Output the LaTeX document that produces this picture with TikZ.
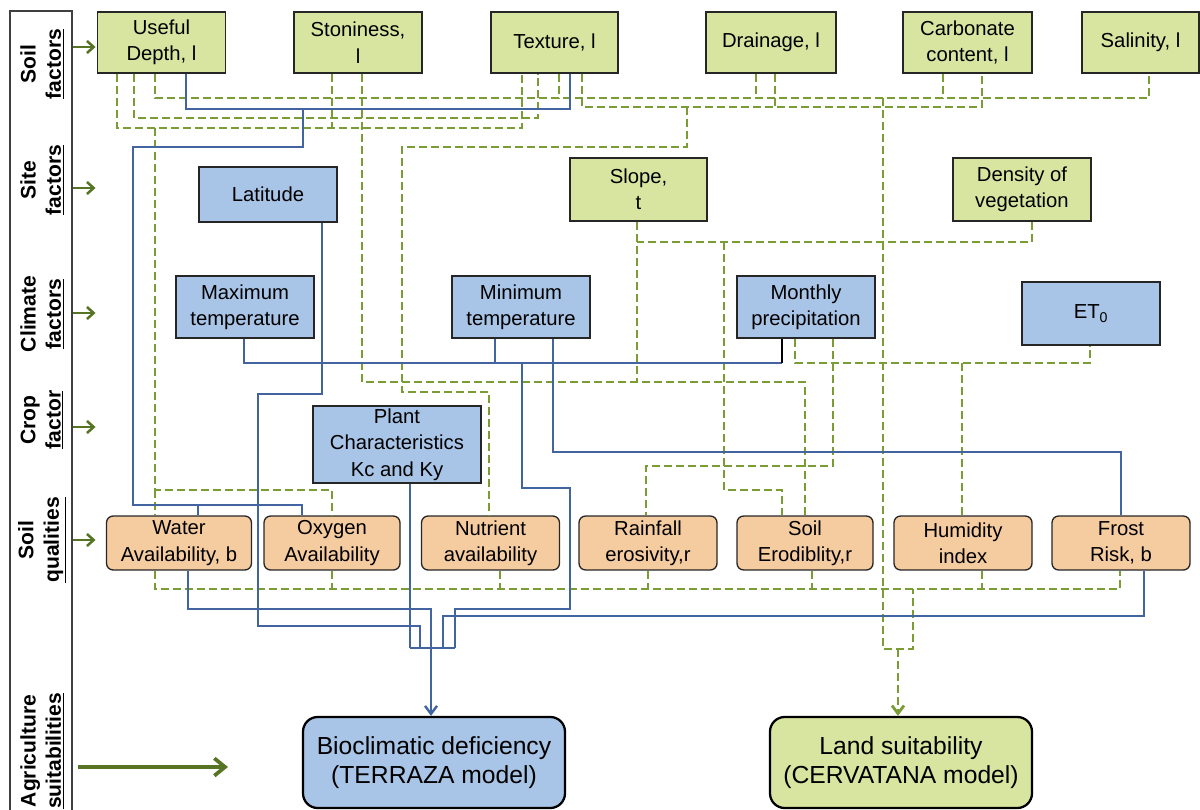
\documentclass[tikz,border=0pt]{standalone}
\usepackage{fontspec}
\setmainfont{Liberation Sans}
\usetikzlibrary{arrows.meta}

\definecolor{soilgreen}{RGB}{215,229,160}
\definecolor{climblue}{RGB}{168,196,230}
\definecolor{qualorange}{RGB}{245,203,160}
\definecolor{linkblue}{RGB}{66,100,160}
\definecolor{linkgreen}{RGB}{122,156,52}
\definecolor{arrowgreen}{RGB}{86,116,36}

\begin{document}
\begin{tikzpicture}[x=0.75pt,y=-0.75pt]
    \tikzset{box/.style 2 args={draw=black!85, line width=1pt, inner sep=0pt, align=center,
            minimum width=#1*0.75pt, minimum height=#2*0.75pt, font=\fontsize{15.2}{19.8}\selectfont},
        soil/.style={fill=soilgreen},
        clim/.style={fill=climblue},
        qual/.style={fill=qualorange, rounded corners=5pt},
        model/.style={line width=1.7pt, draw=black, rounded corners=11pt, font=\fontsize{18.5}{22}\selectfont},
        rowlbl/.style={rotate=90, align=center, inner sep=0pt, font=\fontsize{15.8}{19}\selectfont\bfseries},
        bline/.style={draw=linkblue, line width=1.8pt},
        gline/.style={draw=linkgreen, line width=2.1pt, dash pattern=on 6pt off 3pt},
        rowarrow/.style={draw=arrowgreen, line width=1.9pt, -{Straight Barb[length=5pt,width=9pt]}}
    }
    \useasboundingbox (0,0) rectangle (1200,810);

    %Leiste links
    \node[draw=black!75, line width=0.8pt, minimum width=62*0.75pt, minimum height=820*0.75pt] (panel) at (41,421) {};
    \node[rowlbl] (lsoil) at (42,64)  {Soil\\\underline{factors}};
    \node[rowlbl] (lsite) at (42,180) {Site\\\underline{factors}};
    \node[rowlbl] (lclim) at (42,314) {Climate\\\underline{factors}};
    \node[rowlbl] (lcrop) at (42,420) {Crop\\\underline{factor}};
    \node[rowlbl] (lqual) at (42,540) {Soil\\\underline{qualities}};
    \node[rowlbl] (lagri) at (42,751) {Agriculture\\\underline{suitabilities}};
    \foreach \y in {47,188,313,427,540}
        \draw[rowarrow] (panel.east |- 0,\y) -- ++(23,0);
    \draw[rowarrow, line width=2.8pt, -{Straight Barb[length=8pt,width=13pt]}] (78,767) -- (228,767);

    %Bodenfaktoren
    \node[box={128}{61}, soil] (ud)    at (161.5,42.5) {Useful\\Depth, l};
    \node[box={128}{61}, soil] (ston)  at (358,42.5)   {Stoniness,\\l};
    \node[box={127}{61}, soil] (tex)   at (554.5,42.5) {Texture, l};
    \node[box={130}{61}, soil] (drain) at (771,42.5)   {Drainage, l};
    \node[box={129}{61}, soil] (carb)  at (967.5,42.5) {Carbonate\\content, l};
    \node[box={117}{61}, soil] (sal)   at (1140.5,42.5){Salinity, l};

    %Standort
    \node[box={138}{55}, clim] (lat)   at (268,194.5)  {Latitude};
    \node[box={137}{63}, soil] (slope) at (638.5,189.5){Slope,\\t};
    \node[box={138}{63}, soil] (dens)  at (1022,189.5) {Density of\\vegetation};

    %Klima
    \node[box={138}{62}, clim] (tmax)  at (245,307)    {Maximum\\temperature};
    \node[box={138}{62}, clim] (tmin)  at (521,307)    {Minimum\\temperature};
    \node[box={138}{62}, clim] (prec)  at (806,307)    {Monthly\\precipitation};
    \node[box={138}{63}, clim] (et)    at (1091,313.5) {ET\textsubscript{0}};

    %Pflanze
    \node[box={168}{77}, clim] (plant) at (397,444.5)  {Plant\\Characteristics\\Kc and Ky};

    %Bodenqualitaeten
    \node[box={145}{54}, qual] (wat)   at (179,543)    {Water\\Availability, b};
    \node[box={136}{54}, qual] (oxy)   at (332,543)    {Oxygen\\Availability};
    \node[box={138}{54}, qual] (nut)   at (490.5,543)  {Nutrient\\availability};
    \node[box={138}{54}, qual] (rain)  at (648,543)    {Rainfall\\erosivity,r};
    \node[box={136}{54}, qual] (erod)  at (805,543)    {Soil\\Erodiblity,r};
    \node[box={138}{54}, qual] (hum)   at (963,543)    {Humidity\\index};
    \node[box={138}{54}, qual] (frost) at (1121,543)   {Frost\\Risk, b};

    %Modelle
    \node[box={262}{91}, clim, model] (bio)  at (434,762.5) {Bioclimatic deficiency\\(TERRAZA model)};
    \node[box={262}{91}, soil, model] (land) at (901,762.5) {Land suitability\\(CERVATANA model)};

    %Gestrichelt (CERVATANA)
    \draw[gline] (ud.south -| 117,0) |- (522,128) -- (tex.south -| 522,0);
    \draw[gline] (ston.south -| 332,0) -- (332,128);
    \draw[gline] (ud.south -| 134,0) |- (538,118) -- (tex.south -| 538,0);
    \draw[gline] (ud.south -| 155,0) |- (1149,98) -- (sal.south -| 1149,0);
    \foreach \n/\x in {tex/559, drain/756, carb/943}
        \draw[gline] (\n.south -| \x,0) -- (\x,98);
    \draw[gline] (tex.south -| 582,0) |- (982,107) -- (carb.south -| 982,0);
    \draw[gline] (drain.south -| 775,0) -- (775,107);
    \draw[gline] (ston.south -| 362,0) |- (805,382) -- (erod.north -| 805,0);
    \draw[gline] (155,128) |- (332,490) -- (oxy.north -| 332,0);
    \draw[gline] (155,490) -- (wat.north -| 155,0);
    \draw[gline] (687,107) |- (402,147) |- (489,392) -- (nut.north -| 489,0);
    \draw[gline] (slope.south -| 637,0) -- (637,382);
    \draw[gline] (dens.south -| 1032,0) |- (637,242);
    \draw[gline] (724,242) |- (782,490) -- (erod.north -| 782,0);
    \draw[gline] (prec.south -| 795,0) |- (1090,363) -- (et.south -| 1090,0);
    \draw[gline] (prec.south -| 833,0) |- (646,466) -- (rain.north -| 646,0);
    \draw[gline] (962,363) -- (hum.north -| 962,0);
    \draw[gline] (wat.south -| 155,0) |- (1120,589) -- (frost.south -| 1120,0);
    \foreach \n/\x in {oxy/332, nut/500, rain/648, erod/812, hum/982}
        \draw[gline] (\n.south -| \x,0) -- (\x,589);
    \draw[gline] (883,98) |- (913,649) -- (913,589);
    \draw[gline, -{Straight Barb[length=6pt,width=9pt]}] (898,649) -- (land.north -| 898,0);

    %Durchgezogen (TERRAZA)
    \draw[bline] (tex.south -| 570,0) |- (186,109) -- (ud.south -| 186,0);
    \draw[bline] (303,109) |- (133,147) |- (302,505) -- (oxy.north -| 302,0);
    \draw[bline] (198,505) -- (wat.north -| 198,0);
    \draw[bline] (lat.south -| 322,0) |- (258,394) |- (420,626) -- (420,648);
    \draw[bline] (tmax.south -| 244,0) |- (782,363);
    \draw[black, line width=2pt] (782,363) -- (prec.south -| 782,0);
    \draw[bline] (tmin.south -| 495,0) -- (495,363);
    \draw[bline] (522,363) |- (570,488) |- (455,609) -- (455,648);
    \draw[bline] (tmin.south -| 553,0) |- (1121,452) -- (frost.north -| 1121,0);
    \draw[bline] (frost.south -| 1144,0) |- (443,616) -- (443,648);
    \draw[bline] (wat.south -| 188,0) |- (431,609) -- (431,648);
    \draw[bline] (plant.south -| 410,0) -- (410,648);
    \draw[bline] (410,648) -- (455,648);
    \draw[bline, -{Straight Barb[length=6pt,width=9pt]}] (431,648) -- (bio.north -| 431,0);

\end{tikzpicture}
\end{document}
